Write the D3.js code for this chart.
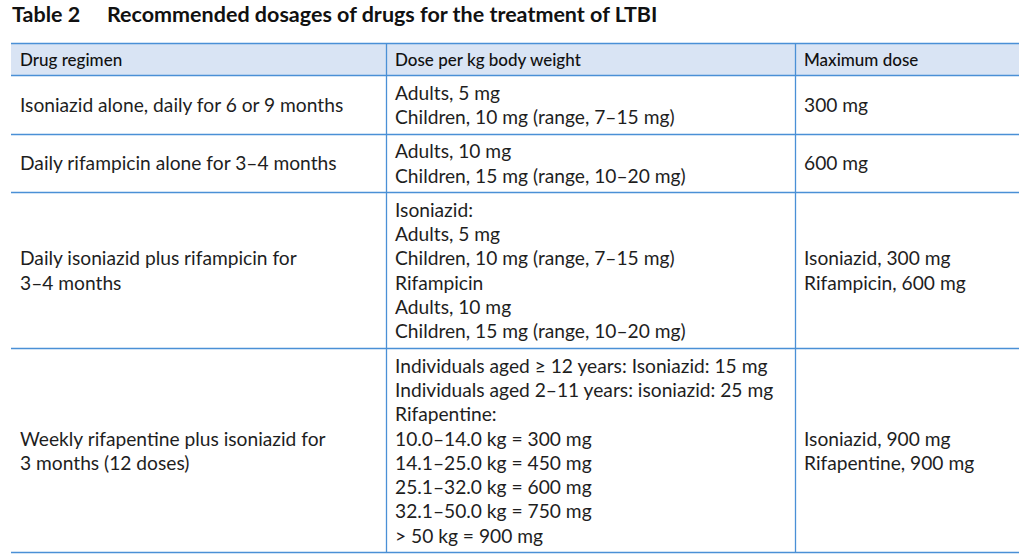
<!DOCTYPE html>
<html><head><meta charset="utf-8">
<script src="https://cdn.jsdelivr.net/npm/d3@7"></script>
<style>body{margin:0;background:#fff}svg{display:block}</style>
</head><body>
<script>
const titleLabel = "Table 2";
const titleText = "Recommended dosages of drugs for the treatment of LTBI";
const headers = ["Drug regimen", "Dose per kg body weight", "Maximum dose"];
const regimens = [
  ["Isoniazid alone, daily for 6 or 9 months"],
  ["Daily rifampicin alone for 3–4 months"],
  ["Daily isoniazid plus rifampicin for", "3–4 months"],
  ["Weekly rifapentine plus isoniazid for", "3 months (12 doses)"]
];
const doses = [
  ["Adults, 5 mg", "Children, 10 mg (range, 7–15 mg)"],
  ["Adults, 10 mg", "Children, 15 mg (range, 10–20 mg)"],
  ["Isoniazid:", "Adults, 5 mg", "Children, 10 mg (range, 7–15 mg)", "Rifampicin", "Adults, 10 mg", "Children, 15 mg (range, 10–20 mg)"],
  ["Individuals aged \u2265 12 years: Isoniazid: 15 mg", "Individuals aged 2–11 years: isoniazid: 25 mg", "Rifapentine:", "10.0–14.0 kg = 300 mg", "14.1–25.0 kg = 450 mg", "25.1–32.0 kg = 600 mg", "32.1–50.0 kg = 750 mg", "> 50 kg = 900 mg"]
];
const maxDoses = [
  ["300 mg"],
  ["600 mg"],
  ["Isoniazid, 300 mg", "Rifampicin, 600 mg"],
  ["Isoniazid, 900 mg", "Rifapentine, 900 mg"]
];

const W = 1024, H = 559;
const lineColor = "#4a90d6", headFill = "#d9e4f4", textColor = "#1e1e1e";
const font = "Lato, 'Open Sans', sans-serif";
const lineH = 24.3, pad = 5;
const tableLeft = 11, tableRight = 1019, tableTop = 43, headH = 32;
const colEdges = [tableLeft, 386, 795, tableRight];
const textPad = 9;

const svg = d3.select("body").append("svg").attr("width", W).attr("height", H);

// title
const title = svg.append("text").attr("x", 12).attr("y", 22)
  .attr("font-family", font).attr("font-weight", 700).attr("font-size", 21.5).attr("fill", "#111");
title.append("tspan").text(titleLabel);
title.append("tspan").attr("x", 107).text(titleText);

// rows
const rows = regimens.map((r, i) => ({cells: [r, doses[i], maxDoses[i]]}));
const heights = rows.map(r => d3.max(r.cells, c => c.length) * lineH + pad * 2);
const bottoms = d3.cumsum([tableTop + headH, ...heights]);
const y = d3.scaleOrdinal().domain(d3.range(rows.length)).range(bottoms.slice(0, -1));

// header
svg.append("rect").attr("x", tableLeft).attr("y", tableTop).attr("width", tableRight - tableLeft).attr("height", headH).attr("fill", headFill);
svg.append("g").selectAll("text").data(headers).join("text")
  .attr("x", (d, i) => colEdges[i] + textPad).attr("y", tableTop + 23)
  .attr("font-family", font).attr("font-weight", 500).attr("font-size", 17).attr("fill", "#111")
  .text(d => d);

// cells
const g = svg.append("g").attr("font-family", font).attr("font-size", 19.2).attr("fill", textColor);
rows.forEach((row, i) => {
  const top = y(i), h = heights[i];
  row.cells.forEach((lines, j) => {
    const cy = top + h / 2;
    const start = cy - (lines.length - 1) * lineH / 2 + 7.5;
    g.append("g").selectAll("text").data(lines).join("text")
      .attr("x", colEdges[j] + textPad)
      .attr("y", (d, k) => start + k * lineH)
      .text(d => d);
  });
});

// horizontal lines
const hl = [tableTop, tableTop + headH, ...bottoms.slice(1)];
svg.append("g").selectAll("line").data(hl).join("line")
  .attr("x1", tableLeft).attr("x2", tableRight)
  .attr("y1", d => Math.round(d) + 0.5).attr("y2", d => Math.round(d) + 0.5)
  .attr("stroke", lineColor).attr("stroke-width", 1.3);
// vertical lines
const vTop = tableTop, vBottom = hl[hl.length - 1];
svg.append("g").selectAll("line").data(colEdges.slice(1, -1)).join("line")
  .attr("x1", d => d + 0.5).attr("x2", d => d + 0.5)
  .attr("y1", vTop).attr("y2", Math.round(vBottom) + 1)
  .attr("stroke", lineColor).attr("stroke-width", 1.3);
</script>
</body></html>
